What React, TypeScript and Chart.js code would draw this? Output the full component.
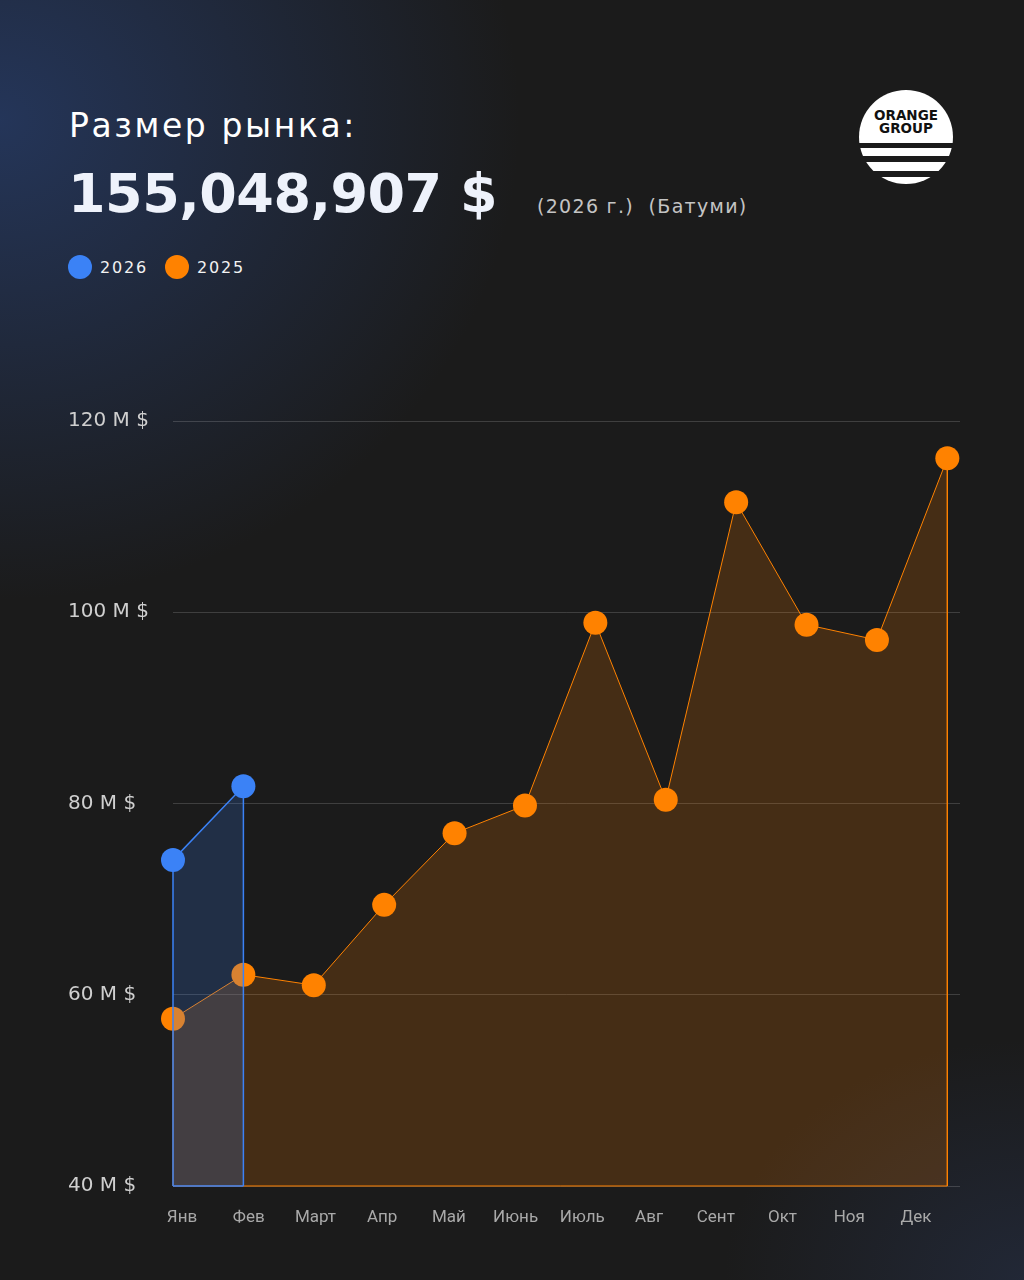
import React, { useEffect, useRef } from "react";
import { Chart, registerables } from "chart.js";

Chart.register(...registerables);

const months = ["Янв", "Фев", "Март", "Апр", "Май", "Июнь", "Июль", "Авг", "Сент", "Окт", "Ноя", "Дек"];
const values2025 = [57.5, 62.1, 61.0, 69.4, 76.9, 79.8, 98.9, 80.4, 111.5, 98.7, 97.1, 116.1];
const values2026 = [74.1, 81.8];
const yTicks = [40, 60, 80, 100, 120];
const legendItems = [
  { label: "2026", color: "#3b82f6", left: 68 },
  { label: "2025", color: "#ff8200", left: 165 },
];

const BASE = 40;
const BLUE = "#3b82f6";
const ORANGE = "#ff8200";

function openShape(values: number[]) {
  const pts: { x: number; y: number; m: boolean }[] = [];
  pts.push({ x: 0, y: BASE, m: false });
  values.forEach((v, i) => pts.push({ x: i, y: v, m: true }));
  pts.push({ x: values.length - 1, y: BASE, m: false });
  return pts;
}

function baseLine(values: number[]) {
  return [
    { x: 0, y: BASE },
    { x: values.length - 1, y: BASE },
  ];
}

const HEAD_FONT = "'DejaVu Sans', sans-serif";

function Logo() {
  return (
    <svg width="96" height="96" viewBox="0 0 96 96" style={{ position: "absolute", left: 858, top: 89 }}>
      <defs>
        <clipPath id="lc">
          <circle cx="48" cy="48" r="47" />
        </clipPath>
      </defs>
      <g clipPath="url(#lc)">
        <rect x="0" y="0" width="96" height="54" fill="#fff" />
        <rect x="0" y="59" width="96" height="8" fill="#fff" />
        <rect x="0" y="73" width="96" height="9" fill="#fff" />
        <rect x="0" y="88" width="96" height="10" fill="#fff" />
      </g>
      <text x="48" y="31" textAnchor="middle" fontFamily="'DejaVu Sans', sans-serif" fontWeight="bold" fontSize="13.5" fill="#111">ORANGE</text>
      <text x="48" y="44" textAnchor="middle" fontFamily="'DejaVu Sans', sans-serif" fontWeight="bold" fontSize="13.5" fill="#111">GROUP</text>
    </svg>
  );
}

const markerRadius = (c: any) => (c.raw && c.raw.m ? 12 : 0);

export default function App() {
  const canvasRef = useRef<HTMLCanvasElement | null>(null);

  useEffect(() => {
    document.body.style.margin = "0";
    const ctx = canvasRef.current!.getContext("2d")!;
    const chart = new Chart(ctx, {
      type: "line",
      data: {
        datasets: [
          {
            label: "2026",
            data: openShape(values2026) as any,
            borderColor: BLUE,
            borderWidth: 1.5,
            backgroundColor: "rgba(59,130,246,0.2)",
            fill: "start",
            tension: 0,
            clip: false as any,
            pointRadius: markerRadius,
            pointHoverRadius: markerRadius,
            pointBackgroundColor: BLUE,
            pointBorderWidth: 0,
          },
          {
            label: "2026 base",
            data: baseLine(values2026) as any,
            borderColor: BLUE,
            borderWidth: 1.5,
            fill: false,
            clip: false as any,
            pointRadius: 0,
          },
          {
            label: "2025",
            data: openShape(values2025) as any,
            borderColor: ORANGE,
            borderWidth: 1,
            backgroundColor: "rgba(255,130,0,0.19)",
            fill: "start",
            tension: 0,
            clip: false as any,
            pointRadius: markerRadius,
            pointHoverRadius: markerRadius,
            pointBackgroundColor: ORANGE,
            pointBorderWidth: 0,
          },
          {
            label: "2025 base",
            data: baseLine(values2025) as any,
            borderColor: ORANGE,
            borderWidth: 1,
            fill: false,
            clip: false as any,
            pointRadius: 0,
          },
        ],
      },
      options: {
        animation: false,
        responsive: false,
        maintainAspectRatio: false,
        events: [],
        layout: { padding: { left: 68, right: 64, top: 41, bottom: 0 } },
        plugins: { legend: { display: false }, tooltip: { enabled: false } },
        scales: {
          x: {
            type: "linear",
            min: 0,
            max: 11.18,
            display: false,
          },
          months: {
            type: "linear",
            position: "bottom",
            min: -0.135,
            max: 11.66,
            afterBuildTicks: (s: any) => {
              s.ticks = months.map((_, i) => ({ value: i }));
            },
            afterFit: (s: any) => {
              s.height = 74;
            },
            grid: { display: false, drawTicks: false },
            border: { display: false },
            ticks: {
              autoSkip: false,
              maxRotation: 0,
              padding: 22,
              color: "#a9a9a9",
              font: { family: "Roboto, sans-serif", size: 17 },
              callback: (v: any) => months[v as number] ?? "",
            },
          },
          y: {
            type: "linear",
            min: 40,
            max: 120,
            afterBuildTicks: (s: any) => {
              s.ticks = yTicks.map((v) => ({ value: v }));
            },
            afterFit: (s: any) => {
              s.width = 105;
            },
            grid: { color: "rgba(255,255,255,0.16)", lineWidth: 1, drawTicks: false },
            border: { display: false },
            ticks: {
              crossAlign: "far",
              padding: 0,
              color: "#cfcfcf",
              font: { family: HEAD_FONT, size: 20 },
              callback: (v: any) => `${v} M $`,
            },
          },
        },
      },
    });
    return () => chart.destroy();
  }, []);

  return (
    <div
      style={{
        position: "relative",
        width: 1024,
        height: 1280,
        overflow: "hidden",
        background:
          "radial-gradient(ellipse 520px 480px at 0px 120px, rgba(38,58,100,0.85), rgba(27,27,27,0) 100%), radial-gradient(ellipse 300px 240px at 1024px 1280px, rgba(38,48,72,0.6), rgba(27,27,27,0) 100%), #1b1b1b",
        fontFamily: HEAD_FONT,
      }}
    >
      <div style={{ position: "absolute", left: 69, top: 106, color: "#ffffff", fontSize: 33, fontWeight: 500, letterSpacing: 2.6, whiteSpace: "nowrap" }}>
        Размер рынка:
      </div>
      <div style={{ position: "absolute", left: 68, top: 162, color: "#eef2fb", fontSize: 54, fontWeight: 800, letterSpacing: -0.5, whiteSpace: "nowrap" }}>
        155,048,907 $
      </div>
      <div style={{ position: "absolute", left: 537, top: 195, color: "#c4c4c4", fontSize: 19, letterSpacing: 1.3, whiteSpace: "pre" }}>
        (2026 г.)  (Батуми)
      </div>
      {legendItems.map((it) => (
        <div key={it.label} style={{ position: "absolute", left: it.left, top: 255, display: "flex", alignItems: "center", gap: 8 }}>
          <span style={{ width: 24, height: 24, borderRadius: 12, background: it.color, display: "inline-block" }} />
          <span style={{ color: "#f2f2f2", fontSize: 16, letterSpacing: 1.8 }}>{it.label}</span>
        </div>
      ))}
      <Logo />
      <canvas ref={canvasRef} width={1024} height={880} style={{ position: "absolute", left: 0, top: 380, width: 1024, height: 880 }} />
    </div>
  );
}
